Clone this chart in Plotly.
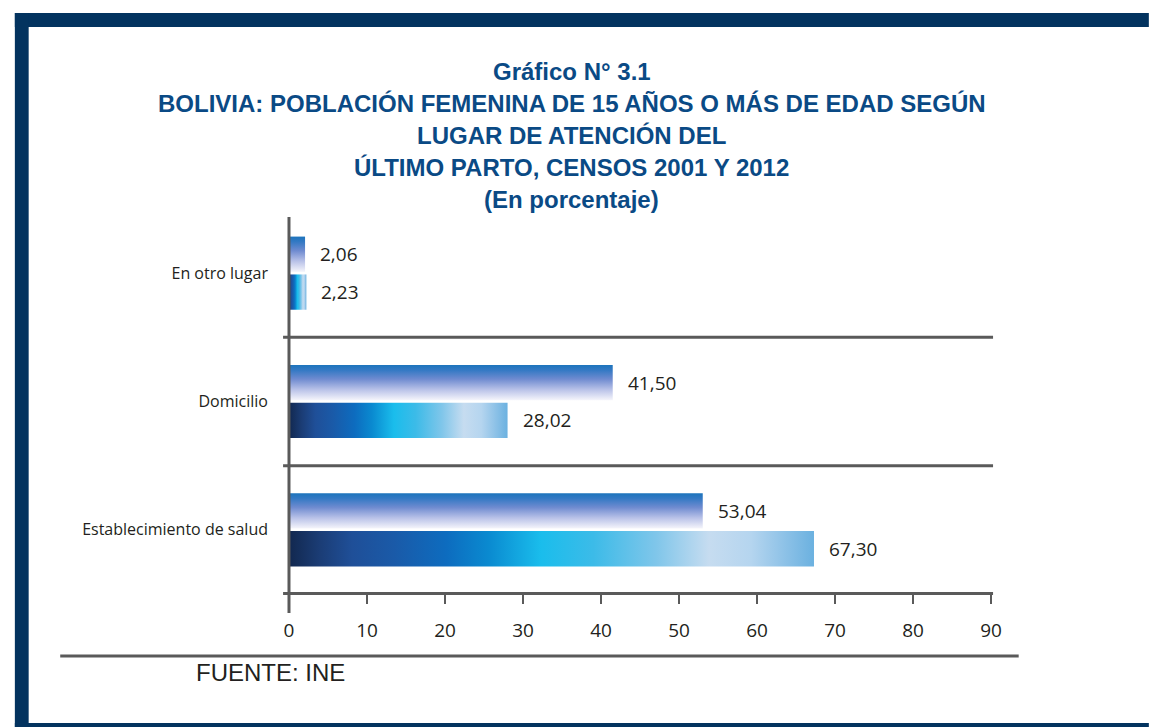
import plotly.graph_objects as go

# data
categories = ["Establecimiento de salud", "Domicilio", "En otro lugar"]
censo_2001 = [53.04, 41.50, 2.06]
censo_2012 = [67.30, 28.02, 2.23]
x_ticks = [0, 10, 20, 30, 40, 50, 60, 70, 80, 90]
title_lines = ["Gráfico N° 3.1",
               "BOLIVIA: POBLACIÓN FEMENINA DE 15 AÑOS O MÁS DE EDAD SEGÚN",
               "LUGAR DE ATENCIÓN DEL",
               "ÚLTIMO PARTO, CENSOS 2001 Y 2012",
               "(En porcentaje)"]

W, H = 1149, 727
navy = "#03335f"
title_blue = "#0a4a85"
grey = "#5a5a5a"
txt = "#231f20"


def px_x(p):
    return p / W


def px_y(p):
    return 1 - p / H


# vertical gradient (bottom -> top) for the 2001 bars
grad_2001 = [[0, "#f5f5fb"], [0.3, "#b9c2e8"], [0.6, "#6f8bd0"], [0.85, "#3479c4"], [1, "#1c74bc"]]
# horizontal gradient (left -> right) for the 2012 bars
grad_2012 = [[0, "#12284f"], [0.06, "#1b3d76"], [0.12, "#1f4f98"], [0.2, "#1a5aa8"],
             [0.3, "#0d6cbf"], [0.38, "#0a8ad0"], [0.48, "#1abdec"], [0.58, "#3cbbe8"],
             [0.7, "#80c6ea"], [0.8, "#c6dcf0"], [0.88, "#b5d5ef"], [1, "#6bb1e0"]]

half = 0.1375
offset = 0.1475

fig = go.Figure()

for i, cat in enumerate(categories):
    for vals, off, grad in [(censo_2001, offset, dict(type="vertical", colorscale=grad_2001)),
                            (censo_2012, -offset, dict(type="horizontal", colorscale=grad_2012))]:
        v = vals[i]
        c = i + off
        fig.add_trace(go.Scatter(
            x=[0, v, v, 0, 0],
            y=[c - half, c - half, c + half, c + half, c - half],
            mode="lines", fill="toself", line=dict(width=0),
            fillgradient=grad, hoverinfo="skip", showlegend=False,
        ))
        fig.add_annotation(
            x=v, y=c, xref="x", yref="y", text=f"{v:.2f}".replace(".", ","),
            showarrow=False, xanchor="left", xshift=13,
            font=dict(family="Open Sans", size=19, color=txt),
        )

x0, x1 = 288, 1000
y_top, y_bot = 209, 594

fig.update_xaxes(range=[0, 90], domain=[px_x(x0), px_x(x1)], tickvals=x_ticks,
                 ticks="outside", ticklen=9, tickwidth=2, tickcolor=grey,
                 showgrid=False, zeroline=False, showline=False,
                 ticklabelstandoff=10,
                 tickfont=dict(family="Open Sans", size=19, color=txt))
fig.update_yaxes(range=[-0.5, 2.5], domain=[px_y(y_bot), px_y(y_top)],
                 tickvals=list(range(len(categories))), ticktext=categories,
                 ticks="", showgrid=False, zeroline=False, showline=False,
                 ticklabelstandoff=20,
                 tickfont=dict(family="Open Sans", size=16, color=txt))

shapes = []
# frame
shapes.append(dict(type="rect", xref="paper", yref="paper", x0=px_x(10), x1=px_x(1160),
                   y0=px_y(27), y1=px_y(13), fillcolor=navy, line=dict(width=0)))
shapes.append(dict(type="rect", xref="paper", yref="paper", x0=px_x(10), x1=px_x(24),
                   y0=px_y(740), y1=px_y(13), fillcolor=navy, line=dict(width=0)))
shapes.append(dict(type="rect", xref="paper", yref="paper", x0=px_x(10), x1=px_x(1160),
                   y0=px_y(740), y1=px_y(723), fillcolor=navy, line=dict(width=0)))
# axis lines
shapes.append(dict(type="line", xref="paper", yref="paper", x0=px_x(288), x1=px_x(288),
                   y0=px_y(217), y1=px_y(613), line=dict(color=grey, width=3)))
shapes.append(dict(type="line", xref="paper", yref="paper", x0=px_x(282), x1=px_x(1002),
                   y0=px_y(593.5), y1=px_y(593.5), line=dict(color=grey, width=3)))
# category separators
for yy in (0.5, 1.5):
    py = y_bot - (yy + 0.5) * (y_bot - y_top) / 3
    shapes.append(dict(type="line", xref="paper", yref="paper", x0=px_x(282), x1=px_x(1002),
                       y0=px_y(py), y1=px_y(py), line=dict(color=grey, width=3)))
# source rule
shapes.append(dict(type="line", xref="paper", yref="paper", x0=px_x(56), x1=px_x(1028),
                   y0=px_y(656), y1=px_y(656), line=dict(color=grey, width=3)))

# title, one annotation per line so the line spacing can follow the reference
title_y = [72, 103, 135, 167, 200]
for line, ty in zip(title_lines, title_y):
    fig.add_annotation(x=px_x(574.5), y=px_y(ty), xref="paper", yref="paper", text=line,
                       showarrow=False, xanchor="center", yanchor="middle",
                       font=dict(family="Liberation Sans", size=24, color=title_blue, weight="bold"))
fig.add_annotation(x=px_x(192), y=px_y(672), xref="paper", yref="paper", text="FUENTE: INE",
                   showarrow=False, xanchor="left", yanchor="middle",
                   font=dict(family="Liberation Sans", size=24, color=txt))

fig.update_layout(width=W, height=H, margin=dict(l=0, r=0, t=0, b=0),
                  paper_bgcolor="white", plot_bgcolor="white", showlegend=False,
                  shapes=shapes)

# drop the default body margin so the figure fills the window exactly
fig.write_html("out.html", config={"displayModeBar": False},
               post_script="document.body.style.margin='0px';")
